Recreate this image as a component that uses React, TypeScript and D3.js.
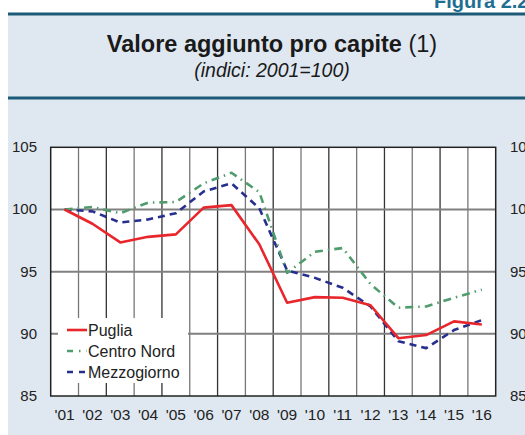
import * as d3 from "d3";

const years = ["'01", "'02", "'03", "'04", "'05", "'06", "'07", "'08", "'09", "'10", "'11", "'12", "'13", "'14", "'15", "'16"];
const puglia = [100, 98.85, 97.35, 97.8, 98.0, 100.15, 100.35, 97.2, 92.5, 92.95, 92.9, 92.3, 89.65, 89.9, 91.0, 90.75];
const centroNord = [100, 100.2, 99.7, 100.55, 100.6, 102.1, 102.95, 101.4, 94.9, 96.6, 96.9, 94.0, 92.1, 92.2, 92.9, 93.55];
const mezzogiorno = [100, 99.85, 98.95, 99.2, 99.7, 101.45, 102.1, 100.1, 95.1, 94.5, 93.7, 92.2, 89.4, 88.85, 90.3, 91.1];
const yTicks = [85, 90, 95, 100, 105];

const series = [
  { name: "Puglia", values: puglia, color: "#e8262b", dash: "", legendDash: "" },
  { name: "Centro Nord", values: centroNord, color: "#4f9c6c", dash: "8 5 1.5 5", legendDash: "6 6 1.5 6" },
  { name: "Mezzogiorno", values: mezzogiorno, color: "#262f8e", dash: "7 5", legendDash: "6 6" },
];

export default function App() {
  const W = 525, H = 435;
  const left = 50.7, right = 495.7, top = 147.3, bottom = 396;
  const font = "'Liberation Sans', Arial, sans-serif";

  const x = d3.scaleBand().domain(years).range([left, right]);
  const y = d3.scaleLinear().domain([85, 105]).range([bottom, top]);
  const line = d3.line<number>()
    .x((_, i) => x(years[i])! + x.bandwidth() / 2)
    .y(d => y(d));

  // legend box
  const lg = { x: 58, y: 318, w: 130, h: 65 };

  return (
    <svg width={W} height={H} style={{ position: "absolute", left: 0, top: 0, fontFamily: font }}>
      <rect x={8} y={14} width={W} height={H} fill="#dfe8f1" />
      <rect x={8} y={12.5} width={W} height={3} fill="#1c5a78" />
      <rect x={8} y={96.5} width={W} height={3} fill="#1c5a78" />
      <text x={434} y={7.5} fill="#1f6f93" fontSize={20} fontWeight="bold">Figura 2.2</text>

      <text x={272} y={52} textAnchor="middle" fontSize={23.5} fill="#1a1a1a">
        <tspan fontWeight="bold">Valore aggiunto pro capite</tspan> (1)
      </text>
      <text x={272} y={77} textAnchor="middle" fontSize={19.5} fontStyle="italic" fill="#1a1a1a">(indici: 2001=100)</text>

      <rect x={left} y={top} width={right - left} height={bottom - top} fill="#fff" />
      {years.slice(1).map((yr, i) => (
        <line key={yr} x1={x(yr)} x2={x(yr)} y1={top} y2={bottom} stroke={i % 2 ? "#333" : "#777"} strokeWidth={1.3} />
      ))}
      {yTicks.slice(1, -1).map(t => (
        <line key={t} x1={left} x2={right} y1={y(t)} y2={y(t)} stroke="#808080" strokeWidth={2} />
      ))}
      <rect x={left} y={top} width={right - left} height={bottom - top} fill="none" stroke="#222" strokeWidth={1.5} />

      {yTicks.map(t => (
        <g key={t} fontSize={15} fill="#222">
          <text x={37} y={y(t) + 5} textAnchor="end">{t}</text>
          <text x={510} y={y(t) + 5}>{t}</text>
        </g>
      ))}
      {years.map(yr => (
        <text key={yr} x={x(yr)! + x.bandwidth() / 2} y={420} textAnchor="middle" fontSize={15.5} fill="#222">{yr}</text>
      ))}

      {series.slice().reverse().map(s => (
        <path key={s.name} d={line(s.values)!} fill="none" stroke={s.color} strokeWidth={2.6} strokeDasharray={s.dash} strokeLinejoin="round" />
      ))}

      <rect x={lg.x} y={lg.y} width={lg.w} height={lg.h} fill="#fff" />
      {series.map((s, i) => (
        <g key={s.name}>
          <line x1={67} x2={87} y1={330 + i * 21} y2={330 + i * 21} stroke={s.color} strokeWidth={2.6} strokeDasharray={s.legendDash} />
          <text x={88} y={335.5 + i * 21} fontSize={16} fill="#222">{s.name}</text>
        </g>
      ))}
    </svg>
  );
}
